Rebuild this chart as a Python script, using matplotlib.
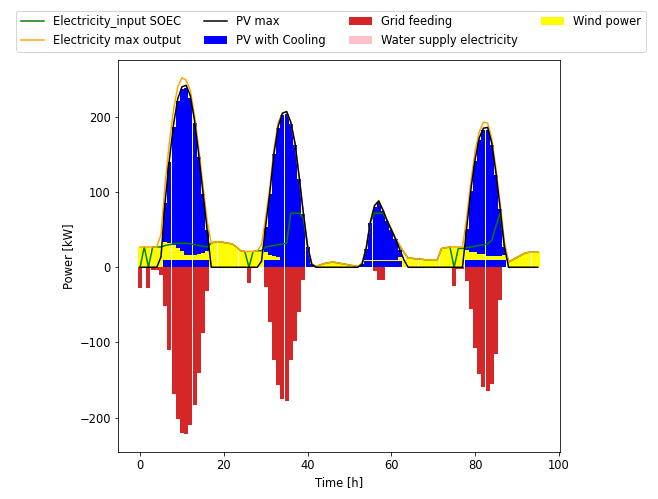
import numpy as np
import matplotlib
matplotlib.use("Agg")
import matplotlib.pyplot as plt

# hourly values, 4 days
hours = np.arange(96)

pv_max = [
    0, 0, 0, 0, 0, 14, 88, 143, 190, 224, 240, 242, 228, 195, 150, 100,
    50, 0, 0, 0, 0, 0, 0, 0, 0, 0, 0, 0, 0, 8, 55, 100,
    152, 188, 205, 207, 193, 165, 120, 72, 28, 4, 0, 0, 0, 0, 0, 0,
    0, 0, 0, 0, 0, 4, 25, 60, 82, 88, 76, 62, 50, 38, 24, 10,
    0, 0, 0, 0, 0, 0, 0, 0, 0, 0, 0, 0, 0, 0, 52, 103,
    143, 172, 185, 186, 165, 125, 78, 28, 0, 0, 0, 0, 0, 0, 0, 0,
]

pv_cooling = [
    0, 0, 0, 0, 0, 13, 86, 140, 187, 221, 237, 239, 225, 192, 147, 98,
    49, 0, 0, 0, 0, 0, 0, 0, 0, 0, 0, 0, 0, 8, 54, 98,
    150, 185, 202, 204, 190, 162, 118, 71, 27, 4, 0, 0, 0, 0, 0, 0,
    0, 0, 0, 0, 0, 4, 24, 59, 80, 86, 75, 61, 49, 37, 23, 10,
    0, 0, 0, 0, 0, 0, 0, 0, 0, 0, 0, 0, 0, 0, 51, 101,
    141, 169, 182, 183, 162, 123, 77, 27, 0, 0, 0, 0, 0, 0, 0, 0,
]

wind = [
    27, 27, 27, 27, 27, 30, 24, 23, 20, 16, 12, 7, 7, 7, 9, 10,
    12, 32, 34, 34, 33, 32, 31, 27, 22, 21, 21, 21, 22, 22, 11, 7,
    6, 5, 0, 0, 0, 0, 0, 0, 0, 0, 1, 3, 5, 6, 7, 6,
    5, 4, 3, 2, 1, 1, 1, 1, 1, 1, 1, 1, 1, 1, 5, 10,
    12, 12, 11, 11, 10, 10, 10, 10, 25, 26, 27, 27, 27, 27, 14, 11,
    11, 8, 8, 6, 6, 6, 6, 7, 7, 10, 13, 16, 19, 20, 20, 20,
]

water_supply = [
    0, 0, 0, 0, 0, 0, 9, 9, 9, 9, 9, 9, 9, 9, 9, 9,
    9, 0, 0, 0, 0, 0, 0, 0, 0, 0, 0, 0, 0, 0, 9, 9,
    9, 9, 9, 9, 9, 9, 9, 9, 9, 0, 0, 0, 0, 0, 0, 0,
    0, 0, 0, 0, 0, 0, 8, 8, 8, 8, 8, 8, 8, 8, 8, 0,
    0, 0, 0, 0, 0, 0, 0, 0, 0, 0, 0, 0, 0, 0, 9, 9,
    9, 9, 9, 9, 9, 9, 9, 9, 0, 0, 0, 0, 0, 0, 0, 0,
]

soec_input = [
    0, 27, 0, 27, 27, 27, 29, 30, 31, 32, 32, 32, 31, 30, 29, 28,
    27, 32, 34, 34, 33, 32, 31, 27, 22, 21, 0, 21, 22, 22, 27, 28,
    29, 30, 31, 32, 72, 72, 72, 65, 28, 4, 1, 3, 5, 6, 7, 6,
    5, 4, 3, 2, 1, 5, 25, 60, 72, 72, 72, 62, 50, 38, 29, 20,
    12, 12, 11, 11, 10, 10, 10, 10, 25, 26, 27, 0, 25, 25, 26, 27,
    28, 29, 30, 31, 36, 55, 72, 28, 7, 10, 13, 16, 19, 20, 20, 20,
]

grid_feeding = [
    -28, 0, -28, -3, -3, -10, -52, -110, -168, -202, -220, -222, -210, -183, -141, -88,
    -32, 0, 0, 0, 0, 0, 0, 0, 0, 0, -21, 0, 0, 0, -26, -73,
    -123, -157, -175, -178, -124, -98, -60, -17, 0, 0, 0, 0, 0, 0, 0, 0,
    0, 0, 0, 0, 0, 0, 0, 0, -5, -17, -17, 0, 0, 0, 0, 0,
    0, 0, 0, 0, 0, 0, 0, 0, 0, 0, 0, -25, -2, -2, -18, -55,
    -107, -142, -159, -165, -155, -116, -44, 0, 0, 0, 0, 0, 0, 0, 0, 0,
]

max_output = np.array(pv_max) + np.array(wind)

plt.rcParams["font.size"] = 11.5
fig = plt.figure(figsize=(658 / 72, 499 / 72), dpi=72)
ax = fig.add_axes([0.1793, 0.0942, 0.6717, 0.7856])

ax.plot(hours, soec_input, color="green", label="Electricity_input SOEC")
ax.plot(hours, max_output, color="orange", label="Electricity max output")
ax.plot(hours, pv_max, color="black", label="PV max")

bw = 0.96
ax.bar(hours, pv_cooling, width=bw, color="blue", label="PV with Cooling")
ax.bar(hours, grid_feeding, width=bw, color="tab:red", label="Grid feeding")
ax.bar(hours, water_supply, width=bw, color="pink",
       label="Water supply electricity", zorder=0.9)
ax.bar(hours, wind, bottom=water_supply, width=bw, color="yellow",
       label="Wind power")

ax.set_xlabel("Time [h]")
ax.set_ylabel("Power [kW]")
ax.set_xticks([0, 20, 40, 60, 80, 100])
ax.set_yticks([-200, -100, 0, 100, 200])

fig.legend(loc="upper center", ncol=4, bbox_to_anchor=(0.503, 0.99))

fig.savefig("out.png", dpi=72)
